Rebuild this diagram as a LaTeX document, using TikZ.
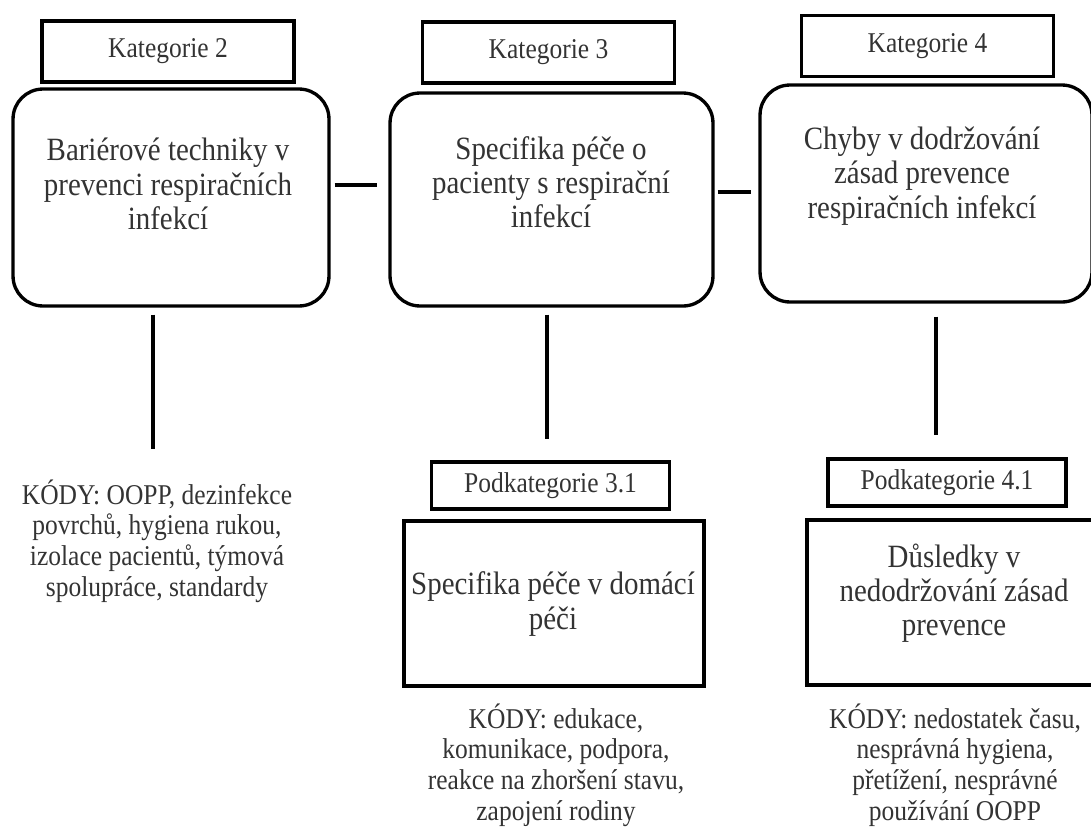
\documentclass[tikz,border=0pt]{standalone}
\usepackage{fontspec}
\setmainfont{Liberation Serif}[FakeStretch=0.89]
\usepackage{tikz}

\begin{document}
\begin{tikzpicture}[x=0.02cm, y=-0.02cm, line width=1.9pt,
		catbox/.style={draw, rectangle, minimum width=5.04cm, minimum height=1.22cm, inner sep=0pt, text=black!80, font=\fontsize{16.3}{17.5}\selectfont},
		subbox/.style={draw, rectangle, minimum width=4.76cm, minimum height=0.94cm, inner sep=0pt, text=black!80, font=\fontsize{16.3}{17.5}\selectfont},
		mainbox/.style={draw, rectangle, rounded corners=0.6cm, inner sep=0pt},
		plainbox/.style={draw, rectangle, minimum height=3.3cm, inner sep=0pt},
		bigtext/.style={align=center, inner sep=0pt, text=black!80, font=\fontsize{18.5}{19.5}\selectfont},
		codes/.style={align=center, inner sep=0pt, text=black!80, font=\fontsize{16.3}{17.5}\selectfont}]
	\useasboundingbox (0,0) rectangle (1091,832);
	\node[catbox] (kat2) at (168,51.5) {Kategorie 2};
	\node[catbox] (kat3) at (548.5,52.5) {Kategorie 3};
	\node[catbox] (kat4) at (927.5,46) {Kategorie 4};
	\node[mainbox, minimum width=6.32cm, minimum height=4.34cm] (b2) at (171,197.5) {};
	\node[mainbox, minimum width=6.46cm, minimum height=4.26cm] (b3) at (551.5,199.5) {};
	\node[mainbox, minimum width=6.64cm, minimum height=4.34cm] (b4) at (926,193.5) {};
	\node[bigtext] (t2) at (168,184) {Bariérové techniky v\\prevenci respiračních\\infekcí};
	\node[bigtext] (t3) at (551,182) {Specifika péče o\\pacienty s respirační\\infekcí};
	\node[bigtext] (t4) at (922,176) {Chyby v dodržování\\zásad prevence\\respiračních infekcí};
	\node[subbox] (pk31) at (550.5,485.5) {Podkategorie 3.1};
	\node[subbox] (pk41) at (947,482.5) {Podkategorie 4.1};
	\node[plainbox, minimum width=6.0cm] (b31) at (554,603.5) {};
	\node[plainbox, minimum width=5.86cm] (b41) at (953.5,602.5) {};
	\node[bigtext] (t31) at (553,604) {Specifika péče v domácí\\péči};
	\node[bigtext] (t41) at (954,593) {Důsledky v\\nedodržování zásad\\prevence};
	\node[codes] (k2) at (157,541) {KÓDY: OOPP, dezinfekce\\povrchů, hygiena rukou,\\izolace pacientů, týmová\\spolupráce, standardy};
	\node[codes] (k31) at (556,765) {KÓDY: edukace,\\komunikace, podpora,\\reakce na zhoršení stavu,\\zapojení rodiny};
	\node[codes] (k41) at (955,765) {KÓDY: nedostatek času,\\nesprávná hygiena,\\přetížení, nesprávné\\používání OOPP};
	\coordinate (e2) at (153,449);
	\draw[shorten <=0.08cm, shorten >=0.22cm] (b2.east |- 0,185) -- (b3.west |- 0,185);
	\draw[shorten <=0.06cm, shorten >=0.14cm] (b3.east |- 0,192) -- (b4.west |- 0,192);
	\draw[shorten <=0.14cm] (b2.south -| e2) -- (e2);
	\draw[shorten <=0.14cm, shorten >=0.42cm] (b3.south -| 547,0) -- (pk31.north -| 547,0);
	\draw[shorten <=0.26cm, shorten >=0.44cm] (b4.south -| 936,0) -- (pk41.north -| 936,0);
\end{tikzpicture}
\end{document}
